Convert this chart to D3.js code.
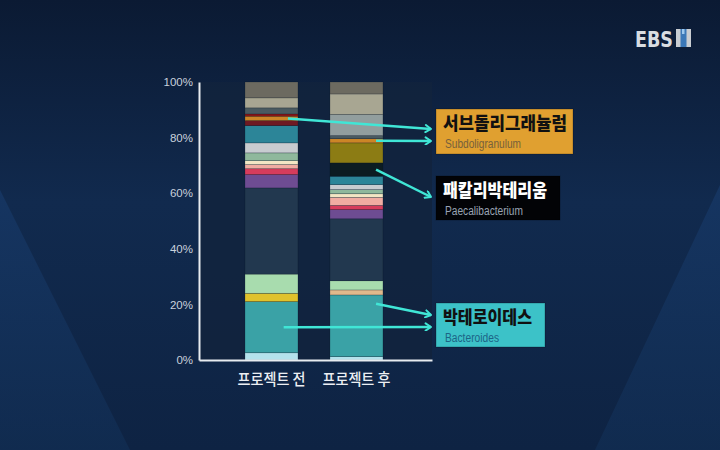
<!DOCTYPE html>
<html>
<head>
<meta charset="utf-8">
<script src="https://cdn.jsdelivr.net/npm/d3@7/dist/d3.min.js"></script>
<style>
  html, body { margin: 0; padding: 0; background: #0f2444; }
  svg { display: block; }
</style>
</head>
<body>
<svg id="chart" width="720" height="450"></svg>
<script>
// ---------------- DATA ----------------
const categories = ["프로젝트 전", "프로젝트 후"];
// taxa listed bottom -> top of the stack
const taxa = [
  "t01", "Bacteroides", "t03", "t04", "t05", "t06", "t07", "t08", "t09", "t10", "t11",
  "t12", "t13", "Faecalibacterium", "t15", "t16", "Subdoligranulum", "t18", "t19", "t20", "t21", "t22"
];
const valuesBefore = [2.6, 18.4, 3.0, 0, 6.9, 31.0, 4.8, 2.1, 1.5, 1.4, 2.8, 3.6, 6.2, 0, 0, 1.8, 1.6, 0.8, 2.2, 0, 3.6, 5.7];
const valuesAfter  = [1.2, 22.2, 0, 1.8, 3.3, 22.3, 3.3, 1.5, 2.9, 1.3, 1.5, 1.8, 3.0, 4.8, 7.2, 0, 1.5, 0, 1.1, 7.6, 7.4, 4.3];
const yTicks = [0, 20, 40, 60, 80, 100];
const yTickLabels = ["0%", "20%", "40%", "60%", "80%", "100%"];
// annotation labels
const labelKo = ["서브돌리그래뉼럼", "패칼리박테리움", "박테로이데스"];
const labelEn = ["Subdoligranulum", "Paecalibacterium", "Bacteroides"];

// ---------------- STYLE ----------------
const taxaColors = [
  "#b4e2ec", "#3aa2a6", "#e0c22c", "#e0b98c", "#a8dcae", "#22384f", "#6e4c92", "#d63c5c",
  "#f0aca2", "#f2e6c4", "#8fb89c", "#c8ccd0", "#2c8598", "#0c1c22", "#8c7c14", "#6e1a22",
  "#cc8526", "#8a1818", "#4a5a60", "#929e9e", "#a8a692", "#6c6a60"
];

const svg = d3.select("#chart");
const W = 720, H = 450;

// background
const defs = svg.append("defs");
const bg = defs.append("linearGradient").attr("id", "bg").attr("x1", 0).attr("y1", 0).attr("x2", 0).attr("y2", 1);
bg.append("stop").attr("offset", "0%").attr("stop-color", "#0b1a33");
bg.append("stop").attr("offset", "45%").attr("stop-color", "#112a4e");
bg.append("stop").attr("offset", "100%").attr("stop-color", "#0e2343");
svg.append("rect").attr("width", W).attr("height", H).attr("fill", "url(#bg)");

const side = defs.append("linearGradient").attr("id", "side").attr("x1", 0).attr("y1", 0).attr("x2", 0).attr("y2", 1);
side.append("stop").attr("offset", "0%").attr("stop-color", "#163663").attr("stop-opacity", 0.9);
side.append("stop").attr("offset", "100%").attr("stop-color", "#123057").attr("stop-opacity", 0.6);
svg.append("path").attr("d", "M0,190 L130,450 L0,450 Z").attr("fill", "url(#side)");
svg.append("path").attr("d", "M720,185 L595,450 L720,450 Z").attr("fill", "url(#side)");

// ---------------- CHART ----------------
const plot = { left: 199, right: 432, top: 82, bottom: 360 };

const x = d3.scaleBand()
  .domain(categories)
  .range([plot.left, plot.right])
  .paddingInner(0.3765)
  .paddingOuter(0.559)
  .align(0.484);

const y = d3.scaleLinear().domain([0, 100]).range([plot.bottom, plot.top]);

// plot area background
svg.append("rect")
  .attr("x", plot.left).attr("y", plot.top)
  .attr("width", plot.right - plot.left).attr("height", plot.bottom - plot.top)
  .attr("fill", "#12233d").attr("opacity", 0.85);

const rows = categories.map((c, i) => {
  const r = { cat: c };
  const src = i === 0 ? valuesBefore : valuesAfter;
  taxa.forEach((t, j) => r[t] = src[j]);
  return r;
});
const series = d3.stack().keys(taxa)(rows);

svg.append("g").selectAll("g")
  .data(series)
  .join("g")
  .attr("fill", (d, i) => taxaColors[i])
  .selectAll("rect")
  .data(d => d.filter(s => s[1] - s[0] > 0))
  .join("rect")
  .attr("x", d => x(d.data.cat))
  .attr("width", x.bandwidth())
  .attr("y", d => y(d[1]))
  .attr("height", d => y(d[0]) - y(d[1]))
  .attr("stroke", "rgba(10,20,35,0.35)")
  .attr("stroke-width", 0.6);

// axes
const yAxis = svg.append("g")
  .attr("transform", `translate(${plot.left},0)`)
  .call(d3.axisLeft(y).tickValues(yTicks).tickFormat((d, i) => yTickLabels[i]).tickSize(0).tickPadding(6));
yAxis.select(".domain").attr("stroke", "#e8ecf0").attr("stroke-width", 2);
yAxis.selectAll("text")
  .attr("fill", "#c9d1dc")
  .attr("font-family", "'Liberation Sans Narrow', 'Liberation Sans', sans-serif")
  .attr("font-size", 11.5);

const xAxis = svg.append("g")
  .attr("transform", `translate(0,${plot.bottom})`)
  .call(d3.axisBottom(x).tickSize(0));
xAxis.select(".domain").attr("stroke", "#e8ecf0").attr("stroke-width", 2);
xAxis.selectAll("text")
  .attr("y", 25).attr("dy", 0)
  .attr("fill", "#eceff3")
  .attr("font-family", "'Noto Sans CJK KR', sans-serif")
  .attr("font-weight", 500)
  .attr("font-size", 16)
  .attr("textLength", 68)
  .attr("lengthAdjust", "spacingAndGlyphs");

// ---------------- ANNOTATIONS ----------------
function segMid(catIdx, key) {
  const s = series[taxa.indexOf(key)][catIdx];
  return y((s[0] + s[1]) / 2);
}
const bx = (i, f) => x(categories[i]) + x.bandwidth() * f;

defs.append("marker")
  .attr("id", "chev").attr("viewBox", "0 0 10 10")
  .attr("refX", 8).attr("refY", 5)
  .attr("markerWidth", 3.6).attr("markerHeight", 3.6)
  .attr("markerUnits", "strokeWidth")
  .attr("orient", "auto")
  .append("path").attr("d", "M2,1 L8,5 L2,9")
  .attr("fill", "none").attr("stroke", "#40e6d6").attr("stroke-width", 2.2)
  .attr("stroke-linecap", "round").attr("stroke-linejoin", "round");

const tipX = 431;
const arrows = [
  [bx(0, 0.81), segMid(0, "Subdoligranulum"), tipX, 129],
  [bx(1, 0.87), segMid(1, "Subdoligranulum"), tipX, 141],
  [bx(1, 0.87), segMid(1, "Faecalibacterium"), tipX, 197],
  [bx(1, 0.87), y(20.2), tipX, 315],
  [bx(0, 0.73), segMid(0, "Bacteroides"), tipX, 327]
];
svg.append("g").selectAll("line")
  .data(arrows)
  .join("line")
  .attr("x1", d => d[0]).attr("y1", d => d[1])
  .attr("x2", d => d[2]).attr("y2", d => d[3])
  .attr("stroke", "#40e6d6").attr("stroke-width", 2.5)
  .attr("marker-end", "url(#chev)");

const boxes = [
  { x: 436, y: 109, w: 137, h: 45, fill: "#e0a030", ko: "#111111", en: "#76603c", koLen: 124, enLen: 76 },
  { x: 436, y: 176, w: 124, h: 44, fill: "#020306", ko: "#ffffff", en: "#9aa3b4", koLen: 104, enLen: 78 },
  { x: 436, y: 303, w: 109, h: 44, fill: "#3cc2c8", ko: "#111111", en: "#1c6486", koLen: 89, enLen: 54 }
];
const bg2 = svg.append("g").selectAll("g").data(boxes).join("g");
bg2.append("rect")
  .attr("x", d => d.x).attr("y", d => d.y).attr("width", d => d.w).attr("height", d => d.h)
  .attr("fill", d => d.fill)
  .attr("stroke", "rgba(0,0,0,0.25)").attr("stroke-width", 1);
bg2.append("text")
  .attr("x", d => d.x + 7).attr("y", d => d.y + 21)
  .attr("fill", d => d.ko)
  .attr("font-family", "'Noto Sans CJK KR', sans-serif")
  .attr("font-weight", 900)
  .attr("font-size", 18)
  .attr("textLength", d => d.koLen)
  .attr("lengthAdjust", "spacingAndGlyphs")
  .text((d, i) => labelKo[i]);
bg2.append("text")
  .attr("x", d => d.x + 9).attr("y", d => d.y + 39)
  .attr("fill", d => d.en)
  .attr("font-family", "'Liberation Sans Narrow', 'Liberation Sans', sans-serif")
  .attr("font-size", 12)
  .attr("textLength", d => d.enLen)
  .attr("lengthAdjust", "spacingAndGlyphs")
  .text((d, i) => labelEn[i]);

// ---------------- LOGO ----------------
const logo = svg.append("g");
logo.append("text")
  .attr("x", 635).attr("y", 47)
  .attr("fill", "#d9dde2")
  .attr("font-family", "'DejaVu Sans', sans-serif")
  .attr("font-weight", 700)
  .attr("font-size", 22)
  .attr("textLength", 38)
  .attr("lengthAdjust", "spacingAndGlyphs")
  .text("EBS");
logo.append("rect").attr("x", 676).attr("y", 29).attr("width", 15).attr("height", 18).attr("fill", "#c9cdd2");
logo.append("rect").attr("x", 680.5).attr("y", 29).attr("width", 6).attr("height", 18).attr("fill", "#3b78b8");
logo.append("rect").attr("x", 682).attr("y", 29).attr("width", 2.5).attr("height", 5).attr("fill", "#9cc8ee");
</script>
</body>
</html>
